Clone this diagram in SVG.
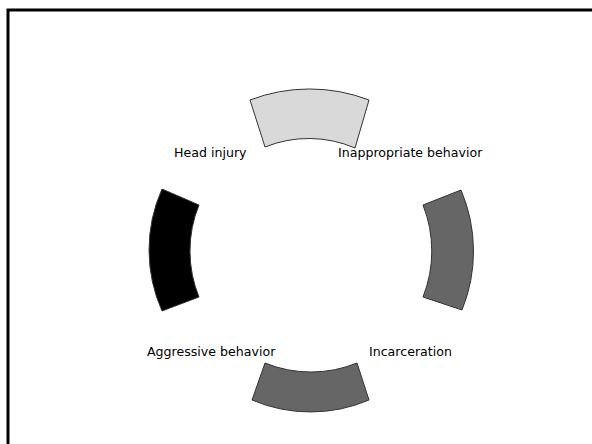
<svg xmlns="http://www.w3.org/2000/svg" width="592" height="444" viewBox="0 0 592 444">
<style>
.seg{stroke:#333333;stroke-width:1}
.lbl{font-family:"DejaVu Sans",sans-serif;font-size:12.6px;fill:#000000}
</style>
<rect x="0" y="0" width="592" height="444" fill="#ffffff"/>
<rect x="8" y="10" width="620" height="470" fill="none" stroke="#000000" stroke-width="3"/>
<g id="connectors"></g>
<g id="seg-top">
<path class="seg" fill="#d9d9d9" d="M250,100 A166,166 0 0 1 369,100 L355,148 A117,117 0 0 0 265,147 Z"/>
</g>
<g id="seg-right">
<path class="seg" fill="#666666" d="M461,190 A156,156 0 0 1 462,310 L423,297 A125,125 0 0 0 423,205 Z"/>
</g>
<g id="seg-bottom">
<path class="seg" fill="#666666" d="M369,400 A149,149 0 0 1 252,400 L265,363 A122,122 0 0 0 357,363 Z"/>
</g>
<g id="seg-left">
<path class="seg" fill="#000000" d="M162,311 A150,150 0 0 1 162,189 L199,205 A122,122 0 0 0 199,297 Z"/>
</g>
<g id="label-head"><text class="lbl" x="174" y="157">Head injury</text></g>
<g id="label-inappropriate"><text class="lbl" x="338" y="157">Inappropriate behavior</text></g>
<g id="label-aggressive"><text class="lbl" x="147" y="356">Aggressive behavior</text></g>
<g id="label-incarceration"><text class="lbl" x="369" y="356">Incarceration</text></g>
</svg>
